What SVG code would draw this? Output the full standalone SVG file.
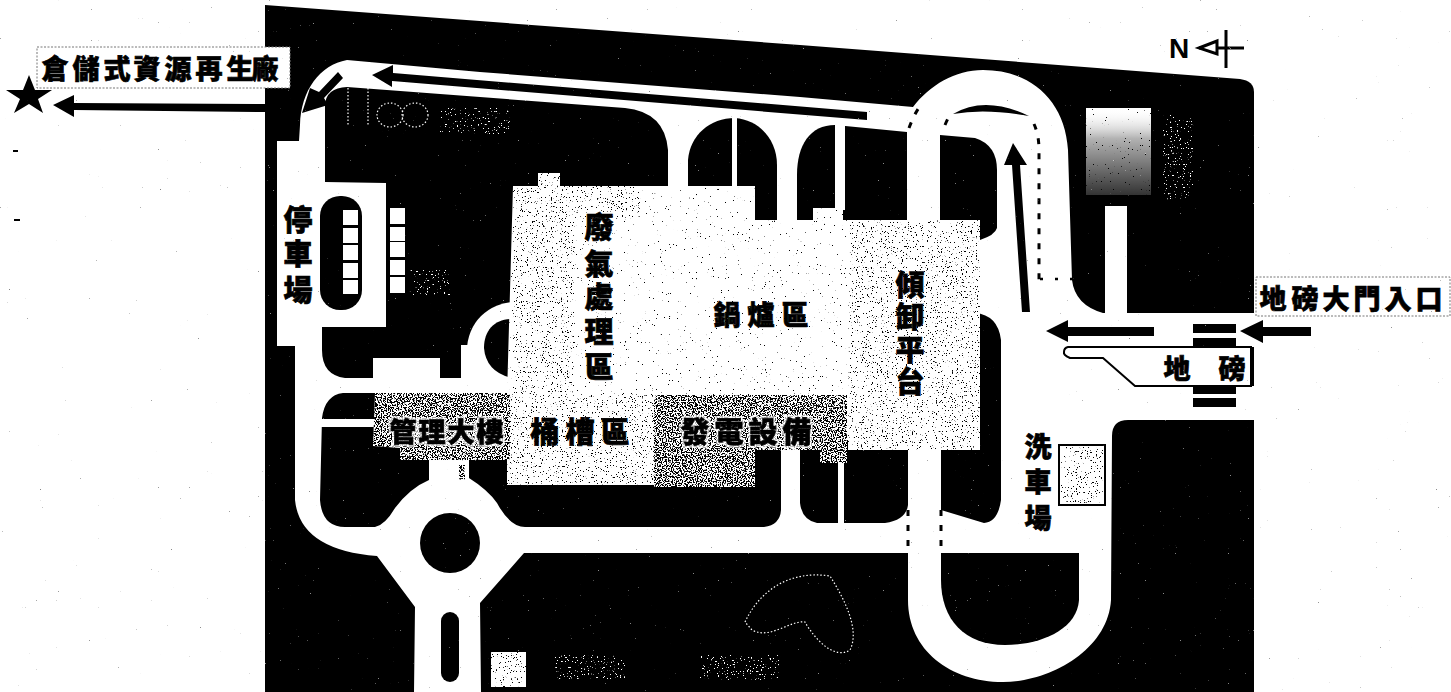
<svg xmlns="http://www.w3.org/2000/svg" width="1451" height="692" viewBox="0 0 1451 692">
<style>
.lb{font-family:"Noto Sans CJK TC","Noto Sans CJK SC",sans-serif;font-weight:900;fill:#000;stroke:#000;stroke-width:.7px;text-anchor:middle;dominant-baseline:central}
.s27{font-size:27px}.s29{font-size:29px}
.halo{filter:url(#halo)}
.box{fill:#fff;stroke:#777;stroke-width:1;stroke-dasharray:2 1.5}
.k{fill:#000}.w{fill:#fff}
</style>
<defs>
<filter id="halo" x="-.05" y="-.1" width="1.1" height="1.2" color-interpolation-filters="sRGB"><feMorphology in="SourceAlpha" operator="dilate" radius="1.6" result="d"/><feFlood flood-color="#fff" flood-opacity=".75"/><feComposite in2="d" operator="in" result="h"/><feMerge><feMergeNode in="h"/><feMergeNode in="SourceGraphic"/></feMerge></filter>
<filter id="sparse" x="0" y="0" width="1" height="1" color-interpolation-filters="sRGB"><feTurbulence type="fractalNoise" baseFrequency=".75" numOctaves="2" seed="3"/><feColorMatrix values="0 0 0 0 0 0 0 0 0 0 0 0 0 0 0 24 0 0 0 -17.9"/><feComposite in2="SourceAlpha" operator="in" result="n"/><feMerge><feMergeNode in="SourceGraphic"/><feMergeNode in="n"/></feMerge></filter>
<filter id="med" x="0" y="0" width="1" height="1" color-interpolation-filters="sRGB"><feTurbulence type="fractalNoise" baseFrequency=".8" numOctaves="2" seed="8"/><feColorMatrix values="0 0 0 0 0 0 0 0 0 0 0 0 0 0 0 24 0 0 0 -15.9"/><feComposite in2="SourceAlpha" operator="in" result="n"/><feMerge><feMergeNode in="SourceGraphic"/><feMergeNode in="n"/></feMerge></filter>
<filter id="dark" x="0" y="0" width="1" height="1" color-interpolation-filters="sRGB"><feTurbulence type="fractalNoise" baseFrequency=".8" numOctaves="2" seed="12"/><feColorMatrix values="0 0 0 0 0 0 0 0 0 0 0 0 0 0 0 24 0 0 0 -11.8"/><feComposite in2="SourceAlpha" operator="in" result="n"/><feMerge><feMergeNode in="SourceGraphic"/><feMergeNode in="n"/></feMerge></filter>
<filter id="dustK" x="0" y="0" width="1" height="1" color-interpolation-filters="sRGB"><feTurbulence type="fractalNoise" baseFrequency=".55" numOctaves="1" seed="21"/><feColorMatrix values="0 0 0 0 .5 0 0 0 0 .5 0 0 0 0 .5 18 0 0 0 -14.1"/></filter>
<filter id="dustW" x="0" y="0" width="1" height="1" color-interpolation-filters="sRGB"><feTurbulence type="fractalNoise" baseFrequency=".6" numOctaves="1" seed="33"/><feColorMatrix values="0 0 0 0 1 0 0 0 0 1 0 0 0 0 1 18 0 0 0 -13.9"/></filter>
<filter id="fleck" x="0" y="0" width="1" height="1" color-interpolation-filters="sRGB"><feTurbulence type="fractalNoise" baseFrequency=".7" numOctaves="2" seed="5"/><feColorMatrix values="0 0 0 0 1 0 0 0 0 1 0 0 0 0 1 24 0 0 0 -16.2"/><feComposite in2="SourceAlpha" operator="in"/></filter>
<linearGradient id="fade" x1="0" y1="0" x2="0" y2="1"><stop offset="0" stop-color="#fff" stop-opacity="0"/><stop offset=".35" stop-color="#000" stop-opacity=".3"/><stop offset="1" stop-color="#000" stop-opacity=".8"/></linearGradient>
</defs>
<rect width="1451" height="692" fill="#fff"/>

<g id="ground">
<path class="k" d="M265,5 L800,45 L1240,79 Q1254,81 1254,92 L1254,692 L265,692 Z"/>
</g>

<g id="roads">
<path class="w" d="M277,346 L277,141 L299,141 L300,125 C301,90 320,65 347,60 L480,72 L800,97 L913,107 C930,85 955,70 983,70 C1030,70 1065,100 1068,150 L1072,280 Q1075,305 1103,313 L1260,313 L1260,420 L1128,420 Q1112,420 1112,436 L1111,600 C1108,650 1050,682 1003,682 C950,682 908,650 908,600 L908,553 L524,553 L480,603 L481,692 L414,692 L415,607 L377,556 Q300,550 295,500 L295,346 Z"/>
<rect class="w" x="1105" y="206" width="22" height="110"/>
</g>

<g id="islands">
<path class="k" d="M325,182 L325,105 Q326,88 347,87 L625,108 Q665,112 668,150 L668,230 L520,230 L520,378 L345,378 Q322,375 322,350 L322,327 L386,327 L386,183 Z"/>
<rect class="w" x="373" y="358" width="67" height="20"/>
<circle class="w" cx="515" cy="350" r="48"/>
<rect class="w" x="461" y="345" width="24" height="35"/>
<path class="k" d="M512,319 C495,319 484,330 484,348 Q486,372 512,378 L520,378 L520,319 Z"/>
<path class="k" d="M688,230 V160 C690,135 710,118 735,118 C760,120 777,140 777,165 V230 Z"/>
<path class="k" d="M797,230 V175 C797,145 810,125 835,125 L907,132 V230 Z"/>
<path class="k" d="M940,135 L975,138 Q997,145 997,170 L997,228 Q995,235 980,240 L940,240 Z"/>
<path class="k" d="M953,114 Q985,95 1029,116 Q985,108 953,114 Z"/>
<path class="k" d="M343,393 Q325,395 322,418 L320,500 Q322,527 345,527 L375,527 Q385,525 395,508 Q410,488 429,480 L429,455 L469,455 L469,478 Q488,490 497,503 Q510,527 525,527 L764,527 Q780,525 781,510 L781,440 L510,440 L510,393 Z"/>
<path class="k" d="M800,440 V503 Q802,520 817,523 L885,523 Q906,520 908,505 L908,440 Z"/>
<path class="k" d="M975,313 Q998,315 1001,340 L1001,500 Q998,522 984,523 L941,510 L941,445 L975,445 Z"/>
<path class="k" d="M941,553 L1079,553 L1079,600 C1077,630 1040,645 1005,645 C965,645 941,620 941,580 Z"/>
<rect class="w" x="320" y="419" width="56" height="8"/>
<rect class="w" x="732" y="118" width="5" height="68"/>
<rect class="w" x="835" y="124" width="10" height="86"/>
<rect class="w" x="838" y="455" width="6" height="68"/>
<circle class="k" cx="450" cy="543" r="30"/>
<rect class="k" x="441" y="612" width="18" height="70" rx="9"/>
</g>

<g id="parking">
<rect class="k" x="320" y="196" width="42" height="114" rx="20"/>
<path class="w" d="M343,210h15v15h-15zM343,228h15v15h-15zM343,245h15v15h-15zM343,263h15v15h-15zM343,280h15v14h-15z"/>
<path class="w" d="M390,208h15v16h-15zM390,227h15v14h-15zM390,242h15v15h-15zM390,260h15v15h-15zM390,277h15v16h-15z"/>
</g>

<g id="buildings">
<path class="w" filter="url(#sparse)" d="M513,186 L538,186 L538,173 L560,173 L560,186 L755,186 L755,220 L813,220 L813,208 L843,208 L843,220 L980,220 L980,450 L848,450 L848,395 L507,395 Z"/>
<path class="w" filter="url(#med)" d="M513,186 L538,186 L538,173 L560,173 L560,186 L640,186 L640,220 L575,220 L575,395 L513,395 Z"/>
<path class="w" filter="url(#med)" d="M850,222 H980 V450 H848 Z"/>
<path class="w" filter="url(#med)" d="M507,393 H654 V485 H507 Z"/>
<path class="w" filter="url(#dark)" d="M375,393 H510 V460 H400 L400,448 L373,446 Z"/>
<path class="w" filter="url(#dark)" d="M654,395 H847 V463 L820,463 L820,450 H755 V487 H654 Z"/>
<rect x="459" y="465" width="6" height="15" class="w" filter="url(#dark)"/>
<rect x="1059" y="445" width="46" height="60" fill="#fff" stroke="#000" stroke-width="2"/>
<rect x="1061" y="447" width="42" height="56" class="w" filter="url(#med)"/>
<rect x="491" y="652" width="35" height="35" class="w" filter="url(#med)"/>
<rect x="1086" y="108" width="65" height="87" class="w" filter="url(#sparse)"/>
<rect x="1086" y="108" width="65" height="87" fill="url(#fade)"/>
<path d="M1068,347 H1251 V386 H1135 L1103,358 H1070 Q1063,355 1064,352 Q1064,348 1068,347 Z" fill="#fff" stroke="#000" stroke-width="2"/>
<rect class="k" x="1250" y="347" width="4" height="39"/>
</g>

<g id="marks">
<g fill="none" stroke="#fff" stroke-width="1.2" stroke-dasharray="1.5 2">
<path d="M348,88V125M368,88V125"/><ellipse cx="390" cy="115" rx="13" ry="12"/><ellipse cx="415" cy="115" rx="13" ry="12"/>
<path d="M745,622 C760,590 790,570 830,576 C845,600 860,630 850,650 C835,660 815,640 805,622 C790,620 770,640 752,630 Z"/>
</g>
<rect x="440" y="108" width="70" height="26" class="k" filter="url(#fleck)"/>
<rect x="555" y="655" width="70" height="25" class="k" filter="url(#fleck)"/>
<rect x="700" y="655" width="80" height="25" class="k" filter="url(#fleck)"/>
<rect x="1163" y="115" width="30" height="85" class="k" filter="url(#fleck)"/>
<rect x="410" y="270" width="40" height="25" class="k" filter="url(#fleck)"/>
</g>

<g id="route-arrows" fill="#000">
<polygon points="53,105 74,95 74,103 265,104 265,112 74,110 74,117"/>
<polygon points="372,75 393,65 393,73 867,112 867,120 392,81 392,87"/>
<polygon points="302,113 310,88 319,92 338,72 343,78 324,98 328,105"/>
<polygon points="1013,143 1027,165 1020,165 1030,312 1022,312 1012,165 1004,165"/>
<polygon points="1046,331 1068,320 1068,327 1154,327 1154,336 1068,336 1068,342"/>
<polygon points="1240,331 1263,320 1263,327 1311,327 1311,336 1263,336 1263,343"/>
<path d="M1193,324h43v9h-43zM1193,338h43v9h-43zM1193,387h43v7h-43zM1193,398h43v9h-43z"/>
<g stroke="#000" stroke-width="3" stroke-dasharray="6 9" fill="none">
<path d="M909,128 Q915,112 921,105"/>
<path d="M945,125 Q948,118 950,115"/>
<path d="M1034,124 Q1039,135 1039,150 L1039,280"/>
<path d="M1040,279 H1075" stroke-width="2.5" stroke-dasharray="3 12"/>
<path d="M908,510 V555"/>
<path d="M941,510 V555"/>
</g>
</g>

<g id="compass">
<text x="1169" y="58" font-family="Liberation Sans,sans-serif" font-size="28" font-weight="700" fill="#000">N</text>
<path d="M1226,30V68M1199,48H1244" stroke="#000" stroke-width="3" fill="none"/>
<polygon points="1199,48 1217,41 1217,54" fill="#fff" stroke="#000" stroke-width="3"/>
</g>

<g id="destination">
<rect class="box" x="37" y="47" width="253" height="41"/>
<text class="lb s27" y="67" x="55 86 117 147 178 209 240 265">倉儲式資源再生廠</text>
<polygon fill="#000" points="29,75 35,90 52,90 38,99 43,113 29,104 14,113 20,99 6,90 23,90"/>
<rect class="k" x="13" y="150" width="5" height="2"/>
<rect class="k" x="14" y="219" width="6" height="2"/>
</g>

<g id="entrance">
<rect class="box" x="1256" y="277" width="194" height="39"/>
<text class="lb s27" y="297" x="1273 1305 1336 1367 1398 1429">地磅大門入口</text>
</g>

<g id="labels">
<text class="lb s29" x="298 298 298" y="218 252 288">停車場</text>
<text class="lb s29" x="599 599 599 599 599" y="225 262 295 330 365">廢氣處理區</text>
<text class="lb s27" y="313" x="727 761 795">鍋爐區</text>
<text class="lb s29" x="910 910 910 910" y="283 315 348 380">傾卸平台</text>
<text class="lb s27 halo" y="430" x="403 432 461 490">管理大樓</text>
<text class="lb s29" y="430" x="545 580 615">桶槽區</text>
<text class="lb s29 halo" y="430" x="695 729 763 797">發電設備</text>
<text class="lb s27" x="1038 1038 1038" y="445 480 516">洗車場</text>
<text class="lb s27" y="367" x="1177 1232">地磅</text>
</g>

<g id="dust">
<rect width="1451" height="692" filter="url(#dustK)"/>
<rect x="265" y="5" width="989" height="687" fill="#000" filter="url(#dustW)" opacity=".55"/>
</g>
</svg>
